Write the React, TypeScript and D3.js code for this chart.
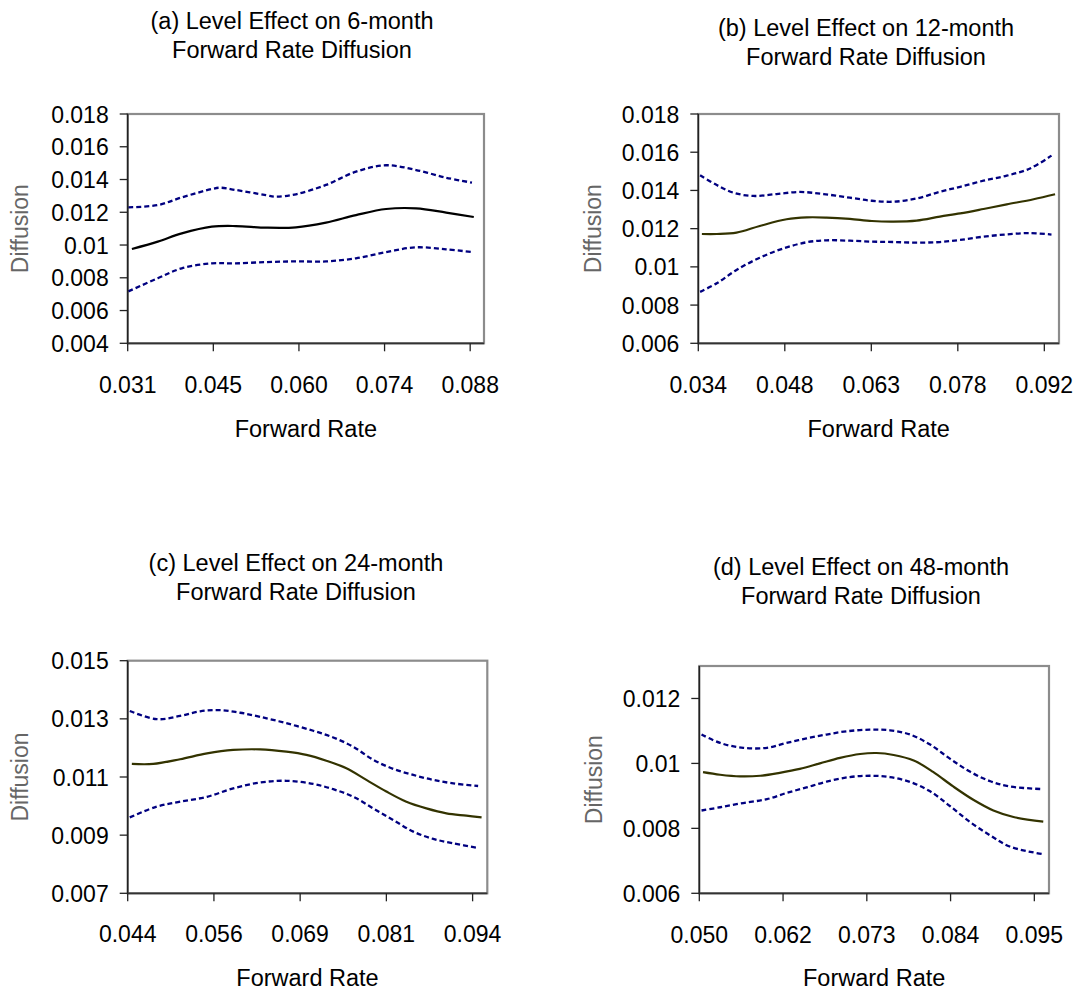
import * as d3 from 'd3';

type Pt = [number, number];

// ---- panel (a): 6-month ----
const aMid: Pt[] = [[0.0317,0.00976],[0.0360,0.01021],[0.0400,0.01071],[0.0450,0.01112],[0.0490,0.01116],[0.0540,0.01106],[0.0590,0.01108],[0.0640,0.01137],[0.0690,0.01183],[0.0740,0.01220],[0.0790,0.01224],[0.0840,0.01198],[0.0886,0.01171]];
const aUpper: Pt[] = [[0.0311,0.01230],[0.0360,0.01244],[0.0400,0.01291],[0.0450,0.01342],[0.0464,0.01350],[0.0490,0.01336],[0.0540,0.01305],[0.0556,0.01295],[0.0590,0.01310],[0.0640,0.01367],[0.0690,0.01448],[0.0740,0.01487],[0.0790,0.01458],[0.0840,0.01411],[0.0883,0.01381]];
const aLower: Pt[] = [[0.0311,0.00717],[0.0360,0.00797],[0.0400,0.00858],[0.0450,0.00888],[0.0490,0.00888],[0.0540,0.00896],[0.0590,0.00900],[0.0640,0.00900],[0.0690,0.00919],[0.0740,0.00957],[0.0790,0.00986],[0.0840,0.00974],[0.0883,0.00957]];
const aXTicks = [0.031, 0.04525, 0.0595, 0.07375, 0.088];
const aXLabels = ['0.031', '0.045', '0.060', '0.074', '0.088'];
const aYTicks = [0.004, 0.006, 0.008, 0.01, 0.012, 0.014, 0.016, 0.018];
const aYLabels = ['0.004', '0.006', '0.008', '0.01', '0.012', '0.014', '0.016', '0.018'];

// ---- panel (b): 12-month ----
const bMid: Pt[] = [[0.0346,0.01172],[0.0371,0.01172],[0.0404,0.01179],[0.0443,0.01214],[0.0488,0.01249],[0.0522,0.01259],[0.0555,0.01258],[0.0594,0.01251],[0.0631,0.01240],[0.0667,0.01237],[0.0706,0.01242],[0.0745,0.01263],[0.0779,0.01280],[0.0818,0.01303],[0.0857,0.01327],[0.0902,0.01354],[0.0938,0.01380]];
const bUpper: Pt[] = [[0.0343,0.01479],[0.0371,0.01428],[0.0399,0.01388],[0.0432,0.01371],[0.0471,0.01381],[0.0510,0.01392],[0.0550,0.01381],[0.0594,0.01362],[0.0631,0.01346],[0.0667,0.01341],[0.0706,0.01358],[0.0745,0.01393],[0.0779,0.01419],[0.0818,0.01451],[0.0857,0.01477],[0.0896,0.01515],[0.0932,0.01582]];
const bLower: Pt[] = [[0.0343,0.00869],[0.0371,0.00914],[0.0404,0.00984],[0.0443,0.01048],[0.0483,0.01097],[0.0522,0.01129],[0.0555,0.01139],[0.0594,0.01137],[0.0631,0.01132],[0.0667,0.01130],[0.0706,0.01127],[0.0745,0.01130],[0.0779,0.01141],[0.0818,0.01158],[0.0857,0.01170],[0.0896,0.01177],[0.0932,0.01169]];
const bXTicks = [0.034, 0.0485, 0.063, 0.0775, 0.092];
const bXLabels = ['0.034', '0.048', '0.063', '0.078', '0.092'];
const bYTicks = [0.006, 0.008, 0.01, 0.012, 0.014, 0.016, 0.018];
const bYLabels = ['0.006', '0.008', '0.01', '0.012', '0.014', '0.016', '0.018'];

// ---- panel (c): 24-month ----
const cMid: Pt[] = [[0.0446,0.01145],[0.0477,0.01145],[0.0516,0.01161],[0.0555,0.01181],[0.0593,0.01193],[0.0632,0.01195],[0.0670,0.01187],[0.0699,0.01176],[0.0728,0.01156],[0.0757,0.01130],[0.0786,0.01090],[0.0815,0.01050],[0.0844,0.01015],[0.0873,0.00992],[0.0902,0.00975],[0.0931,0.00967],[0.0953,0.00961]];
const cUpper: Pt[] = [[0.0443,0.01327],[0.0482,0.01299],[0.0516,0.01310],[0.0545,0.01326],[0.0574,0.01330],[0.0603,0.01321],[0.0632,0.01307],[0.0670,0.01285],[0.0709,0.01259],[0.0738,0.01236],[0.0767,0.01204],[0.0796,0.01159],[0.0825,0.01128],[0.0854,0.01107],[0.0883,0.01090],[0.0912,0.01078],[0.0948,0.01069]];
const cLower: Pt[] = [[0.0443,0.00961],[0.0482,0.00998],[0.0516,0.01015],[0.0555,0.01032],[0.0593,0.01061],[0.0632,0.01081],[0.0670,0.01087],[0.0709,0.01076],[0.0738,0.01058],[0.0767,0.01032],[0.0796,0.00992],[0.0825,0.00952],[0.0854,0.00912],[0.0883,0.00887],[0.0912,0.00872],[0.0948,0.00856]];
const cXTicks = [0.044, 0.0565, 0.069, 0.0815, 0.094];
const cXLabels = ['0.044', '0.056', '0.069', '0.081', '0.094'];
const cYTicks = [0.007, 0.009, 0.011, 0.013, 0.015];
const cYLabels = ['0.007', '0.009', '0.011', '0.013', '0.015'];

// ---- panel (d): 48-month ----
const dMid: Pt[] = [[0.0505,0.00973],[0.0528,0.00965],[0.0555,0.00960],[0.0582,0.00962],[0.0608,0.00971],[0.0635,0.00983],[0.0662,0.01000],[0.0689,0.01017],[0.0716,0.01029],[0.0738,0.01032],[0.0761,0.01026],[0.0788,0.01009],[0.0814,0.00974],[0.0841,0.00929],[0.0868,0.00888],[0.0895,0.00855],[0.0922,0.00835],[0.0962,0.00821]];
const dUpper: Pt[] = [[0.0503,0.01089],[0.0528,0.01063],[0.0559,0.01048],[0.0591,0.01048],[0.0617,0.01063],[0.0644,0.01077],[0.0671,0.01089],[0.0698,0.01099],[0.0729,0.01104],[0.0756,0.01102],[0.0783,0.01089],[0.0810,0.01058],[0.0837,0.01014],[0.0864,0.00974],[0.0891,0.00945],[0.0917,0.00929],[0.0960,0.00921]];
const dLower: Pt[] = [[0.0503,0.00855],[0.0528,0.00865],[0.0559,0.00878],[0.0591,0.00890],[0.0617,0.00909],[0.0644,0.00926],[0.0671,0.00944],[0.0702,0.00958],[0.0729,0.00962],[0.0756,0.00958],[0.0783,0.00943],[0.0810,0.00914],[0.0837,0.00868],[0.0864,0.00819],[0.0891,0.00778],[0.0917,0.00744],[0.0960,0.00721]];
const dXTicks = [0.050, 0.06125, 0.0725, 0.08375, 0.095];
const dXLabels = ['0.050', '0.062', '0.073', '0.084', '0.095'];
const dYTicks = [0.006, 0.008, 0.01, 0.012];
const dYLabels = ['0.006', '0.008', '0.01', '0.012'];

const FONT = '"Liberation Sans", Arial, Helvetica, sans-serif';

const panels = [
  {
    title: ['(a) Level Effect on 6-month', 'Forward Rate Diffusion'],
    mid: aMid, upper: aUpper, lower: aLower, midColor: '#000000',
    xDomain: [0.031, 0.0903], yDomain: [0.004, 0.018],
    xTicks: aXTicks, xLabels: aXLabels, yTicks: aYTicks, yLabels: aYLabels,
    box: { left: 127.7, right: 484, top: 114, bottom: 343.3 },
    titleX: 292, titleY: 28.5, xLabelY: 392.5, xTitleY: 437, yTitleX: 28,
  },
  {
    title: ['(b) Level Effect on 12-month', 'Forward Rate Diffusion'],
    mid: bMid, upper: bUpper, lower: bLower, midColor: '#333300',
    xDomain: [0.034, 0.09446], yDomain: [0.006, 0.018],
    xTicks: bXTicks, xLabels: bXLabels, yTicks: bYTicks, yLabels: bYLabels,
    box: { left: 698.3, right: 1059, top: 114, bottom: 343.3 },
    titleX: 866, titleY: 36, xLabelY: 392.5, xTitleY: 437, yTitleX: 601,
  },
  {
    title: ['(c) Level Effect on 24-month', 'Forward Rate Diffusion'],
    mid: cMid, upper: cUpper, lower: cLower, midColor: '#333300',
    xDomain: [0.044, 0.09613], yDomain: [0.007, 0.015],
    xTicks: cXTicks, xLabels: cXLabels, yTicks: cYTicks, yLabels: cYLabels,
    box: { left: 127.7, right: 487.3, top: 660.7, bottom: 893.3 },
    titleX: 296, titleY: 571, xLabelY: 942, xTitleY: 986, yTitleX: 28,
  },
  {
    title: ['(d) Level Effect on 48-month', 'Forward Rate Diffusion'],
    mid: dMid, upper: dUpper, lower: dLower, midColor: '#333300',
    xDomain: [0.050, 0.09697], yDomain: [0.006, 0.013],
    xTicks: dXTicks, xLabels: dXLabels, yTicks: dYTicks, yLabels: dYLabels,
    box: { left: 699.3, right: 1049, top: 666, bottom: 893.3 },
    titleX: 861, titleY: 575, xLabelY: 943, xTitleY: 986, yTitleX: 602,
  },
];

type PanelCfg = (typeof panels)[number];

function Panel({ cfg }: { cfg: PanelCfg }) {
  const { box } = cfg;
  const x = d3.scaleLinear().domain(cfg.xDomain).range([box.left, box.right]);
  const y = d3.scaleLinear().domain(cfg.yDomain).range([box.bottom, box.top]);
  const line = d3
    .line<Pt>()
    .x((d) => x(d[0]))
    .y((d) => y(d[1]))
    .curve(d3.curveCatmullRom.alpha(0.5));

  const cx = (box.left + box.right) / 2;
  const cy = (box.top + box.bottom) / 2;

  return (
    <g>
      {/* title */}
      <text x={cfg.titleX} y={cfg.titleY} textAnchor="middle" fontSize={23.5} fill="#000">
        {cfg.title[0]}
      </text>
      <text x={cfg.titleX} y={cfg.titleY + 29} textAnchor="middle" fontSize={23.5} fill="#000">
        {cfg.title[1]}
      </text>

      {/* plot area */}
      <rect
        x={box.left}
        y={box.top}
        width={box.right - box.left}
        height={box.bottom - box.top}
        fill="#fff"
        stroke="#8c8c8c"
        strokeWidth={2.2}
      />

      {/* series */}
      <path d={line(cfg.upper) || ''} fill="none" stroke="#000080" strokeWidth={2.3} strokeDasharray="5,3" />
      <path d={line(cfg.lower) || ''} fill="none" stroke="#000080" strokeWidth={2.3} strokeDasharray="5,3" />
      <path d={line(cfg.mid) || ''} fill="none" stroke={cfg.midColor} strokeWidth={2.2} />

      {/* axes */}
      <line x1={box.left} x2={box.left} y1={box.top} y2={box.bottom} stroke="#222" strokeWidth={1.5} />
      <line x1={box.left} x2={box.right} y1={box.bottom} y2={box.bottom} stroke="#333" strokeWidth={1.8} />
      {cfg.yTicks.map((t, i) => (
        <g key={'y' + i}>
          <line x1={box.left - 8} x2={box.left} y1={y(t)} y2={y(t)} stroke="#222" strokeWidth={1.3} />
          <text x={box.left - 19} y={y(t) + 8.5} textAnchor="end" fontSize={23} fill="#000">
            {cfg.yLabels[i]}
          </text>
        </g>
      ))}
      {cfg.xTicks.map((t, i) => (
        <g key={'x' + i}>
          <line x1={x(t)} x2={x(t)} y1={box.bottom} y2={box.bottom + 8} stroke="#222" strokeWidth={1.3} />
          <text x={x(t)} y={cfg.xLabelY} textAnchor="middle" fontSize={23} fill="#000">
            {cfg.xLabels[i]}
          </text>
        </g>
      ))}

      {/* axis titles */}
      <text x={cx} y={cfg.xTitleY} textAnchor="middle" fontSize={23.5} fill="#000">
        Forward Rate
      </text>
      <text
        transform={`translate(${cfg.yTitleX},${cy}) rotate(-90)`}
        textAnchor="middle"
        fontSize={23}
        fill="#666"
      >
        Diffusion
      </text>
    </g>
  );
}

export default function App() {
  return (
    <svg
      width={1091}
      height={991}
      style={{ position: 'absolute', left: 0, top: 0, background: '#fff' }}
      fontFamily={FONT}
    >
      <rect width={1091} height={991} fill="#fff" />
      {panels.map((p, i) => (
        <Panel key={i} cfg={p} />
      ))}
    </svg>
  );
}
